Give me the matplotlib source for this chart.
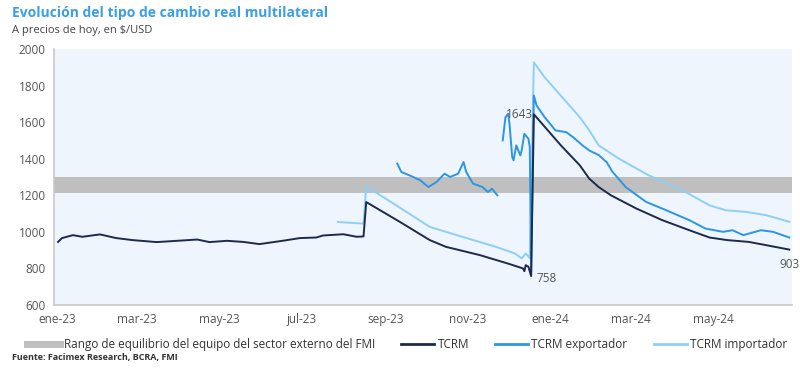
import matplotlib
matplotlib.use("Agg")
import matplotlib.pyplot as plt
import pandas as pd

plt.rcParams['font.family'] = ['Open Sans', 'DejaVu Sans']

# TCRM (a precios de hoy, $/USD)
tcrm_dates = ["2023-01-02", "2023-01-05", "2023-01-13", "2023-01-20", "2023-02-02", "2023-02-14",
              "2023-02-26", "2023-03-16", "2023-03-31", "2023-04-15", "2023-04-24", "2023-05-07",
              "2023-05-19", "2023-05-31", "2023-06-17", "2023-06-30", "2023-07-12", "2023-07-17",
              "2023-08-01", "2023-08-11", "2023-08-16", "2023-08-18", "2023-09-12", "2023-10-04",
              "2023-10-16", "2023-11-10", "2023-12-02", "2023-12-12", "2023-12-13", "2023-12-14",
              "2023-12-16", "2023-12-18", "2023-12-20", "2024-01-09", "2024-01-23", "2024-01-30",
              "2024-02-06", "2024-02-15", "2024-03-05", "2024-03-24", "2024-04-13", "2024-04-28",
              "2024-05-11", "2024-05-27", "2024-06-09", "2024-06-26"]
tcrm_vals = [945, 966, 982, 973, 986, 966,
             955, 944, 951, 958, 944, 951,
             945, 933, 951, 966, 969, 980,
             987, 973, 975, 1163, 1054, 955,
             918, 873, 824, 800, 785, 818,
             809, 758, 1643, 1473, 1364, 1291,
             1245, 1200, 1127, 1064, 1009, 969,
             955, 945, 927, 903]

# TCRM exportador (tramos con datos)
exp_dates = ["2023-09-10", "2023-09-13", "2023-09-19", "2023-09-27", "2023-10-03", "2023-10-09",
             "2023-10-15", "2023-10-19", "2023-10-25", "2023-10-29", "2023-10-31", "2023-11-05",
             "2023-11-12", "2023-11-16", "2023-11-19", "2023-11-23",
             "2023-11-27", "2023-11-29", "2023-12-01", "2023-12-02", "2023-12-04", "2023-12-05",
             "2023-12-07", "2023-12-10", "2023-12-11", "2023-12-13", "2023-12-16", "2023-12-17",
             "2023-12-18", "2023-12-20", "2023-12-22", "2023-12-28", "2024-01-05", "2024-01-13",
             "2024-01-18", "2024-01-25", "2024-01-30", "2024-02-06", "2024-02-12", "2024-02-16",
             "2024-02-26", "2024-03-12", "2024-03-27", "2024-04-13", "2024-04-25", "2024-05-08",
             "2024-05-15", "2024-05-23", "2024-06-05", "2024-06-14", "2024-06-26"]
exp_vals = [1373, 1327, 1309, 1282, 1245, 1273,
            1318, 1300, 1318, 1382, 1327, 1264,
            1245, 1218, 1236, 1200,
            1500, 1627, 1646, 1591, 1409, 1391,
            1473, 1418, 1445, 1536, 1509, 1464,
            775, 1746, 1691, 1627, 1555, 1545,
            1518, 1473, 1445, 1420, 1380, 1330,
            1245, 1164, 1118, 1064, 1018, 1000,
            1009, 982, 1009, 1000, 969]
# gap between the two 2023 segments
exp_gap_after = "2023-11-23"

# TCRM importador
imp_dates = ["2023-07-28", "2023-08-05", "2023-08-16", "2023-08-18", "2023-09-09", "2023-10-04",
             "2023-10-28", "2023-11-22", "2023-12-06", "2023-12-11", "2023-12-14", "2023-12-17",
             "2023-12-20", "2023-12-28", "2024-01-10", "2024-01-23", "2024-01-30", "2024-02-06",
             "2024-02-21", "2024-03-14", "2024-04-08", "2024-04-28", "2024-05-10", "2024-05-25",
             "2024-06-09", "2024-06-26"]
imp_vals = [1054, 1050, 1045, 1249, 1146, 1027,
            973, 918, 882, 855, 882, 856,
            1927, 1845, 1736, 1627, 1555, 1473,
            1400, 1309, 1227, 1145, 1118, 1109,
            1091, 1055]

band_low, band_high = 1210, 1300

tick_dates = ["2023-01-01", "2023-03-01", "2023-05-01", "2023-07-01", "2023-09-01", "2023-11-01",
              "2024-01-01", "2024-03-01", "2024-05-01"]
tick_labels = ["ene-23", "mar-23", "may-23", "jul-23", "sep-23", "nov-23", "ene-24", "mar-24", "may-24"]

c_band = "#bfbfbf"
c_tcrm = "#1d2a4d"
c_exp = "#2c96e4"
c_imp = "#8fcff4"

fig = plt.figure(figsize=(8, 3.74), dpi=100)
ax = fig.add_axes([0.0675, 0.1845, 0.9225, 0.6845])
ax.set_facecolor("#eef5fc")

td = pd.to_datetime(tcrm_dates)
ed = pd.to_datetime(exp_dates)
idt = pd.to_datetime(imp_dates)

ax.axhspan(band_low, band_high, color=c_band, lw=0, zorder=1)
ax.plot(idt, imp_vals, color=c_imp, lw=1.4, zorder=2)
split = list(ed).index(pd.Timestamp(exp_gap_after)) + 1
ax.plot(ed[:split], exp_vals[:split], color=c_exp, lw=1.4, zorder=3)
ax.plot(ed[split:], exp_vals[split:], color=c_exp, lw=1.4, zorder=3)
ax.plot(td, tcrm_vals, color=c_tcrm, lw=1.4, zorder=4)

# labels on TCRM
lab_color = "#555555"
i_max = tcrm_vals.index(1643)
i_min = tcrm_vals.index(758)
ax.annotate("1643", (td[i_max], tcrm_vals[i_max]), xytext=(-1, 0), textcoords="offset points",
            ha="right", va="center", fontsize=8.5, color=lab_color, zorder=5)
ax.annotate("758", (td[i_min], tcrm_vals[i_min]), xytext=(4, -2), textcoords="offset points",
            ha="left", va="center", fontsize=8.5, color=lab_color, zorder=5)
ax.annotate("903", (td[-1], tcrm_vals[-1]), xytext=(0, -6), textcoords="offset points",
            ha="center", va="top", fontsize=8.5, color=lab_color, zorder=5)

ax.set_ylim(600, 2000)
ax.set_yticks(range(600, 2001, 200))
ax.set_xlim(pd.Timestamp("2022-12-30"), pd.Timestamp("2024-06-28"))
ax.set_xticks(pd.to_datetime(tick_dates))
ax.set_xticklabels(tick_labels)
ax.tick_params(length=0, labelsize=8.5, labelcolor="#555555", pad=6)
for s in ["top", "right"]:
    ax.spines[s].set_visible(False)
for s in ["left", "bottom"]:
    ax.spines[s].set_color("#c8c8c8")
    ax.spines[s].set_linewidth(1.2)

fig.text(0.015, 0.965, "Evolución del tipo de cambio real multilateral", fontsize=10,
         fontweight="bold", color="#3a9fe6", va="center")
fig.text(0.015, 0.918, "A precios de hoy, en $/USD", fontsize=8, color="#444444", va="center")
fig.text(0.015, 0.043, "Fuente: Facimex Research, BCRA, FMI", fontsize=6.5, fontweight="bold",
         color="#333333", va="center")

handles = [plt.Line2D([], [], color=c_band, lw=5),
           plt.Line2D([], [], color=c_tcrm, lw=2),
           plt.Line2D([], [], color=c_exp, lw=2),
           plt.Line2D([], [], color=c_imp, lw=2)]
labels = ["Rango de equilibrio del equipo del sector externo del FMI", "TCRM",
          "TCRM exportador", "TCRM importador"]
fig.legend(handles, labels, loc="center", bbox_to_anchor=(0.509, 0.078), ncol=4, frameon=False,
           fontsize=8.5, handlelength=2.8, columnspacing=2.2, handletextpad=0.3,
           labelcolor="#333333")

fig.savefig("out.png", dpi=100)
